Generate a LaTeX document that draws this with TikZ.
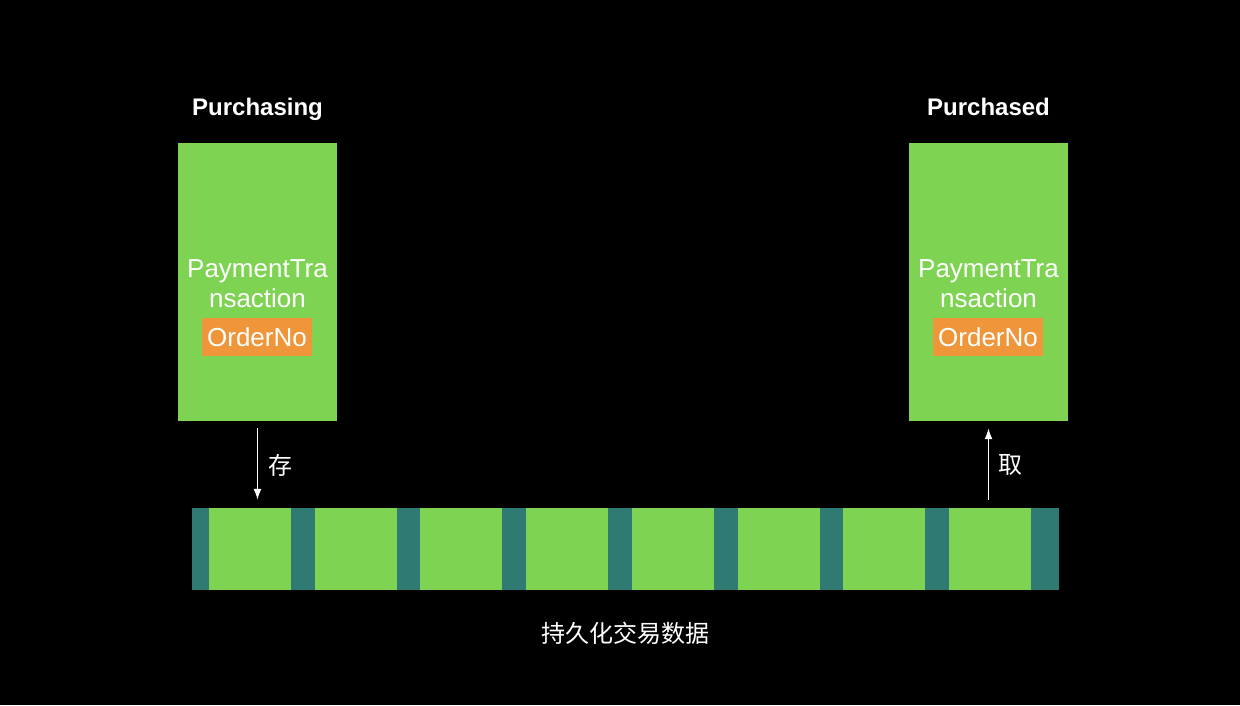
\documentclass[tikz,border=0pt]{standalone}
\usepackage{fontspec}
\setmainfont{Liberation Sans}
\newfontfamily\cjk{Noto Sans CJK SC}
\usetikzlibrary{arrows.meta,positioning}
\definecolor{boxgreen}{RGB}{126,211,82}
\definecolor{slotteal}{RGB}{47,122,115}
\definecolor{tagorange}{RGB}{240,150,58}

\begin{document}
\begin{tikzpicture}[x=1pt, y=-1pt,
  state/.style={draw=none, fill=boxgreen, minimum width=159pt, minimum height=278pt, inner sep=0pt},
  title/.style={text=white, font=\fontsize{24}{28}\selectfont\bfseries, text depth=0pt},
  body/.style={text=white, font=\fontsize{26}{30}\selectfont, align=center, inner sep=0pt},
  tag/.style={fill=tagorange, text=white, font=\fontsize{26}{30}\selectfont, minimum width=110pt, minimum height=38pt, inner sep=0pt},
  slot/.style={fill=boxgreen, minimum width=82pt, minimum height=82pt, inner sep=0pt},
  cn/.style={text=white, font=\cjk\fontsize{24}{28}\selectfont, inner sep=0pt},
  arrow/.style={-{Latex[length=11pt,width=8pt]}, white, line width=1.6pt}
]
\fill[black] (0,0) rectangle (1240,705);
\useasboundingbox (0,0) rectangle (1240,705);

\node[state] (purchasing) at (257.5,282) {};
\node[state] (purchased) at (988.5,282) {};
\node[title, above=24pt of purchasing] (lpurchasing) {Purchasing};
\node[title, above=24pt of purchased] (lpurchased) {Purchased};

\node[body] (ltxn) at (257.5,284) {PaymentTra\\nsaction};
\node[tag] (lorder) at (257,337) {OrderNo};
\node[body] (rtxn) at (988.5,284) {PaymentTra\\nsaction};
\node[tag] (rorder) at (988,337) {OrderNo};

% store of persisted transactions
\node[fill=slotteal, minimum width=867pt, minimum height=82pt, inner sep=0pt] (store) at (625.5,549) {};
\foreach \i in {0,...,7}
  \node[slot] (slot\i) at ({250+105.7*\i},549) {};
\node[cn, below=32pt of store] (lstore) {持久化交易数据};

\draw[arrow] ([yshift=-7pt]purchasing.south) -- ([yshift=8pt]purchasing.south |- store.north);
\draw[arrow] ([yshift=8pt]purchased.south |- store.north) -- ([yshift=-7pt]purchased.south);
\node[cn] (lsave) at (280,465) {存};
\node[cn] (lload) at (1010,465) {取};
\end{tikzpicture}
\end{document}
